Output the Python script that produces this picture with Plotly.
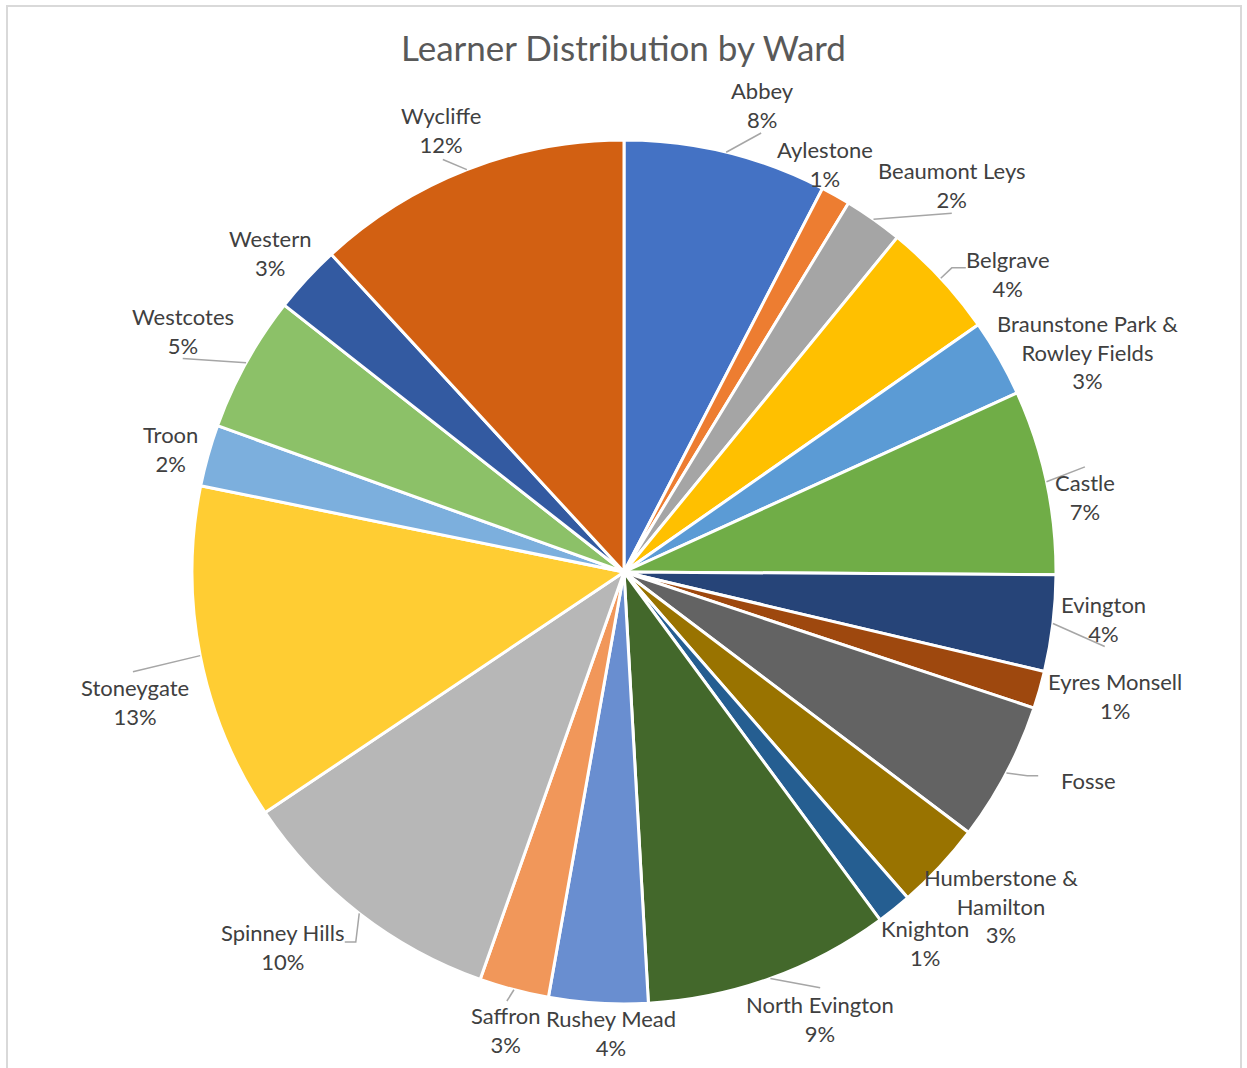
import math
import plotly.graph_objects as go

# Ward names, in the order the slices run clockwise from 12 o'clock
wards = [
    "Abbey", "Aylestone", "Beaumont Leys", "Belgrave",
    "Braunstone Park & Rowley Fields", "Castle", "Evington", "Eyres Monsell",
    "Fosse", "Humberstone & Hamilton", "Knighton", "North Evington",
    "Rushey Mead", "Saffron", "Spinney Hills", "Stoneygate", "Troon",
    "Westcotes", "Western", "Wycliffe",
]

# Share of learners living in each ward (%)
learner_share = [
    7.6, 1.1, 2.2, 4.4,
    2.9, 6.9, 3.6, 1.4,
    5.2, 3.3, 1.3, 9.2,
    3.7, 2.6, 10.2, 12.6, 2.3,
    5.1, 2.55, 11.85,
]

slice_colors = [
    "#4472C4", "#ED7D31", "#A5A5A5", "#FFC000",
    "#5B9BD5", "#70AD47", "#264478", "#9E480E",
    "#636363", "#997300", "#255E91", "#43682B",
    "#698ED0", "#F1975A", "#B7B7B7", "#FFCD33", "#7CAFDD",
    "#8CC168", "#335AA1", "#D26012",
]

# Wards whose label is shown without its percentage
name_only = {"Fosse"}

# Wrapped label text for the long ward names
wrapped = {
    "Braunstone Park & Rowley Fields": "Braunstone Park &<br>Rowley Fields",
    "Humberstone & Hamilton": "Humberstone &<br>Hamilton",
}

# Label placement: distance from the pie centre (px) and angular nudge (deg)
label_radius = [487, 455, 507, 486, 513, 467, 482, 506, 509, 504,
                478, 488, 461, 473, 507, 506, 470, 503, 477, 478]
label_nudge = [2.8, -3.1, 5.0, 5.0, 4.3, 2.8, -1.3, -1.7, -3.5, -1.5,
               -0.4, -3.9, -1.8, -0.3, 4.5, -3.7, -0.5, -0.3, -0.7, -1.2]

# Leader lines: where the line meets the label (offset from label centre, px)
# and whether it ends with a short horizontal elbow
leaders = {
    "Abbey": (-1, 28, 0),
    "Beaumont Leys": (0, 28, 0),
    "Belgrave": (-42, -6, 14),
    "Castle": (0, -30, 0),
    "Evington": (1, 28, 0),
    "Fosse": (-50, -5, 11),
    "North Evington": (0, -31, 0),
    "Saffron": (1, -29, 0),
    "Spinney Hills": (62, -5, -11),
    "Stoneygate": (-2, -30, 0),
    "Westcotes": (0, 28, 0),
    "Wycliffe": (2, 29, 0),
}

W, H = 1247, 1068
CX, CY, R = 624, 572, 432
FONT = "Lato, Calibri, Carlito, sans-serif"


def px(x):
    return x / W


def py(y):
    return 1 - y / H


fig = go.Figure(
    go.Pie(
        labels=wards,
        values=learner_share,
        sort=False,
        direction="clockwise",
        rotation=0,
        textinfo="none",
        hoverinfo="label+percent",
        marker=dict(colors=slice_colors, line=dict(color="white", width=3)),
        domain=dict(x=[px(CX - R), px(CX + R)], y=[py(CY + R), py(CY - R)]),
        showlegend=False,
    )
)

total = sum(learner_share)
annotations = []
shapes = []
start = 0.0
for i, (name, val) in enumerate(zip(wards, learner_share)):
    sweep = val / total * 360.0
    mid = start + sweep / 2
    start += sweep

    # label text
    text = wrapped.get(name, name)
    if name not in name_only:
        text += "<br>" + f"{int(val / total * 100 + 0.5)}%"

    ang = math.radians(mid + label_nudge[i])
    lx = CX + label_radius[i] * math.sin(ang)
    ly = CY - label_radius[i] * math.cos(ang)
    annotations.append(dict(
        x=px(lx), y=py(ly), xref="paper", yref="paper",
        text=text, showarrow=False, xanchor="center", yanchor="middle",
        align="center", font=dict(family=FONT, size=22, color="#404040"),
    ))

    # leader line from the slice edge to its label
    if name in leaders:
        dx, dy, elbow = leaders[name]
        m = math.radians(mid)
        ex, ey = CX + R * math.sin(m), CY - R * math.cos(m)
        tx, ty = lx + dx, ly + dy
        if elbow:
            path = (f"M {px(ex)},{py(ey)} L {px(tx - elbow)},{py(ty)} "
                    f"L {px(tx)},{py(ty)}")
        else:
            path = f"M {px(ex)},{py(ey)} L {px(tx)},{py(ty)}"
        shapes.append(dict(type="path", path=path, xref="paper", yref="paper",
                           line=dict(color="#A6A6A6", width=1.5)))

# chart frame
shapes.append(dict(type="rect", xref="paper", yref="paper",
                   x0=px(7), x1=px(1241), y0=py(1075), y1=py(6),
                   line=dict(color="#D9D9D9", width=2)))

fig.update_layout(
    width=W, height=H,
    margin=dict(l=0, r=0, t=0, b=0),
    paper_bgcolor="white", plot_bgcolor="white",
    title=dict(text="Learner Distribution by Ward", x=0.5, xanchor="center",
               y=py(49), yanchor="middle",
               font=dict(family=FONT, size=35, color="#595959")),
    annotations=annotations,
    shapes=shapes,
)

fig.write_html("out.html")
